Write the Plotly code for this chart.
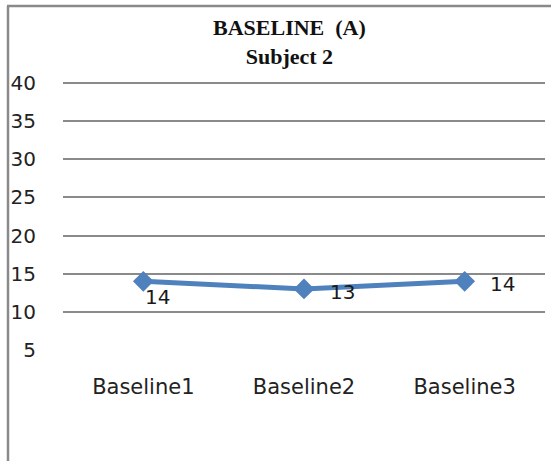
import plotly.graph_objects as go

# Baseline phase scores for Subject 2
categories = ["Baseline1", "Baseline2", "Baseline3"]
scores = [14, 13, 14]
y_ticks = [5, 10, 15, 20, 25, 30, 35, 40]

# pixel offsets of each value label from its point
label_dx = [14, 38, 38]
label_dy = [-16, -3, -3]

W, H = 551, 461
ML, MR, MT, MB = 63, 6, 81, 110
SANS = "DejaVu Sans, sans-serif"

fig = go.Figure()
fig.add_trace(go.Scatter(
    x=categories,
    y=scores,
    mode="lines+markers",
    line=dict(color="#4F81BD", width=5),
    marker=dict(symbol="diamond", size=16, color="#4F81BD"),
    cliponaxis=False,
    showlegend=False,
))

for c, v, dx, dy in zip(categories, scores, label_dx, label_dy):
    fig.add_annotation(
        x=c, y=v, text=str(v), showarrow=False,
        xshift=dx, yshift=dy,
        font=dict(family=SANS, size=20, color="#1a1a1a"),
    )

pw = W - ML - MR
ph = H - MT - MB
def px_x(p):
    return (p - ML) / pw
def px_y(p):
    return (H - MB - p) / ph

# Chart frame (left and top edges)
fig.add_shape(type="line", xref="paper", yref="paper",
              x0=px_x(8), x1=px_x(8), y0=px_y(6), y1=px_y(470),
              line=dict(color="#8a8a8a", width=2.5))
fig.add_shape(type="line", xref="paper", yref="paper",
              x0=px_x(7), x1=px_x(560), y0=px_y(6), y1=px_y(6),
              line=dict(color="#8a8a8a", width=2.5))

fig.add_annotation(
    xref="paper", yref="paper",
    x=px_x(289), y=px_y(42), xanchor="center", yanchor="middle",
    text="<b>BASELINE  (A)</b><br><b>Subject 2</b>",
    showarrow=False,
    font=dict(family="Liberation Serif, Times New Roman, serif", size=22, color="#111"),
)

fig.update_layout(
    width=W, height=H,
    margin=dict(l=ML, r=MR, t=MT, b=MB),
    paper_bgcolor="white", plot_bgcolor="white",
    xaxis=dict(
        type="category", range=[-0.5, 2.5],
        showgrid=False, showline=False, zeroline=False, ticks="",
        tickfont=dict(family=SANS, size=21, color="#222"),
        ticklabelstandoff=21,
    ),
    yaxis=dict(
        range=[4.87, 40.26], tickvals=y_ticks,
        showgrid=True, gridcolor="#8a8a8a", gridwidth=2,
        showline=False, zeroline=False, ticks="",
        tickfont=dict(family=SANS, size=20, color="#222"),
        ticklabelstandoff=26,
    ),
)

fig.write_html("out.html")
